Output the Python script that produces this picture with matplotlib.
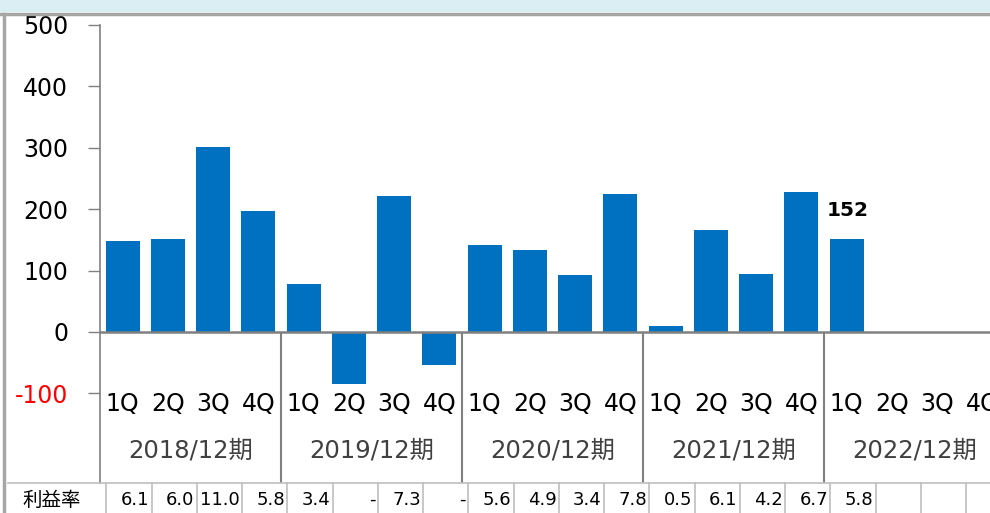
"""Quarterly operating profit with margin row"""
import numpy as np
import matplotlib
matplotlib.use("Agg")
import matplotlib.pyplot as plt
from matplotlib.lines import Line2D
from matplotlib.patches import Rectangle
import matplotlib.transforms as mtransforms

plt.rcParams['font.family'] = ['DejaVu Sans', 'Noto Sans CJK JP']

# data
quarters = ['1Q', '2Q', '3Q', '4Q']
years = ['2018/12期', '2019/12期', '2020/12期', '2021/12期', '2022/12期']
profit = [148, 151, 301, 197,
          78, -85, 221, -54,
          142, 134, 93, 225,
          10, 166, 94, 228,
          152]
margin = ['6.1', '6.0', '11.0', '5.8',
          '3.4', '-', '7.3', '-',
          '5.6', '4.9', '3.4', '7.8',
          '0.5', '6.1', '4.2', '6.7',
          '5.8', '', '', '']
yticks = [-100, 0, 100, 200, 300, 400, 500]
row_label = '利益率'

BLUE = '#0070C0'
GRAY = '#808080'
W, H = 990, 513

fig = plt.figure(figsize=(W / 100, H / 100), dpi=100)
ax = fig.add_axes([100 / W, 1 - 483 / H, 1 - 100 / W, (483 - 25) / H])

n_slots = len(quarters) * len(years)
x = np.arange(len(profit))
ax.bar(x, profit, width=0.75, color=BLUE, zorder=3)
ax.set_xlim(-0.5, 19.17)
ax.set_ylim(-246, 500)

# y axis
ax.set_yticks(yticks)
ax.set_yticklabels([str(v) for v in yticks], fontsize=17)
for lbl, v in zip(ax.get_yticklabels(), yticks):
    if v < 0:
        lbl.set_color('#FF0000')
ax.tick_params(axis='y', length=9, width=1, color=GRAY, pad=14)
ax.set_xticks([])
for s in ['top', 'right', 'bottom']:
    ax.spines[s].set_visible(False)
ax.spines['left'].set_color(GRAY)
ax.spines['left'].set_linewidth(1.2)

# zero line and group dividers
ax.axhline(0, color=GRAY, lw=1.8, zorder=4)
bounds = np.arange(len(years)) * 4 + 3.5
ax.vlines(bounds[:-1], -246, 0, color=GRAY, lw=1.5)

# category labels
for i in range(n_slots):
    ax.text(i, -117, quarters[i % 4], ha='center', va='center', fontsize=17)
for g, yr in enumerate(years):
    ax.text(g * 4 + 1.5, -193, yr, ha='center', va='center',
            fontsize=17.5, color='#404040')

# data label for the latest quarter
ax.text(len(profit) - 1 + 0.03, 152 + 31, str(profit[-1]), ha='center',
        va='bottom', fontsize=14.5, fontweight='bold')

# margin row below the axes
trans = mtransforms.blended_transform_factory(ax.transData, fig.transFigure)
row_y = 1 - 500 / H
for i, m in enumerate(margin):
    ax.text(i + 0.59, row_y, m, transform=trans, ha='right', va='center',
            fontsize=13, clip_on=False)
    ax.add_line(Line2D([i + 0.64, i + 0.64], [0, 1 - 483 / H], transform=trans,
                       color='#BFBFBF', lw=1.2, clip_on=False))
fig.text(52 / W, row_y, row_label, ha='center', va='center', fontsize=14)
fig.add_artist(Line2D([8 / W, 1], [1 - 483 / H] * 2, color='#BFBFBF', lw=1.2))
ax.add_line(Line2D([-0.5 + 0.14, -0.5 + 0.14], [0, 1 - 483 / H],
                   transform=trans, color='#BFBFBF', lw=1.2, clip_on=False))

# frame of the surrounding sheet
fig.add_artist(Rectangle((0, 1 - 12 / H), 1, 12 / H, transform=fig.transFigure,
                         color='#DAEEF3', lw=0))
fig.add_artist(Line2D([0, 1], [1 - 14 / H] * 2, color='#A6A6A6', lw=2.5))
fig.add_artist(Line2D([4 / W, 4 / W], [0, 1 - 14 / H], color='#A6A6A6', lw=2.5))

fig.savefig('out.png', dpi=100)
